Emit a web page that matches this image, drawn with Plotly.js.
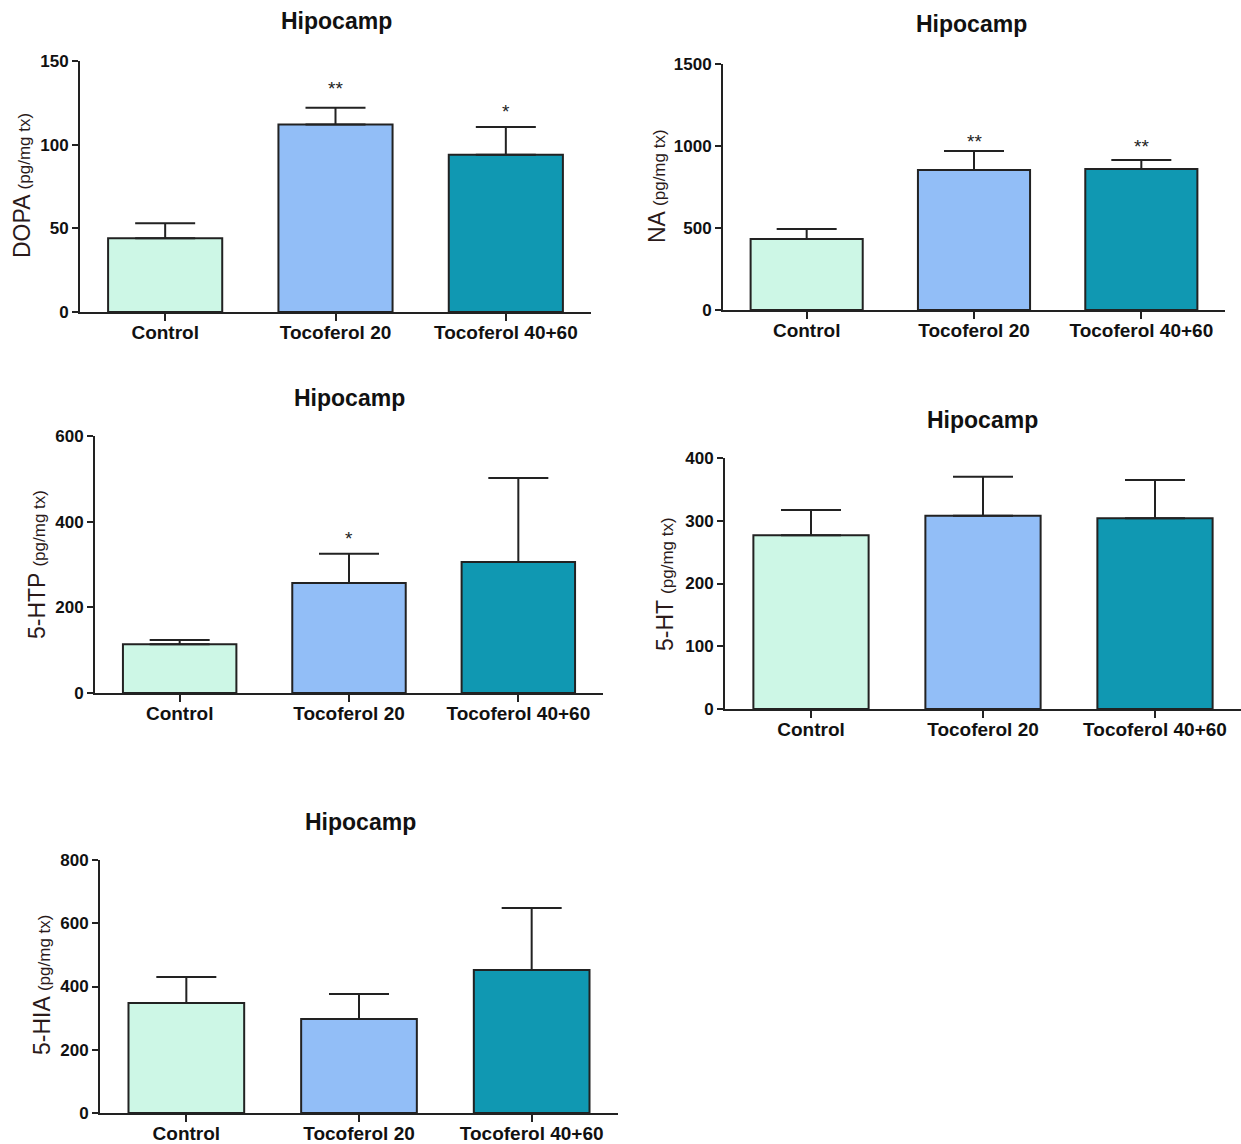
<!DOCTYPE html>
<html><head><meta charset="utf-8">
<script src="https://cdn.plot.ly/plotly-3.0.1.min.js"></script>
<style>html,body{margin:0;padding:0;background:#fff}</style>
</head><body><div id="chart" style="width:1241px;height:1144px"></div>
<script>
const categories = ['Control', 'Tocoferol 20', 'Tocoferol 40+60'];
const barColors = ['#cdf7e6', '#92bef7', '#1098b2'];

const dopa = [44, 112, 94];
const dopaErr = [9, 10, 16.5];
const dopaStars = ['', '**', '*'];
const dopaStarY = [null, 136, 122.5];

const na = [433, 854, 860];
const naErr = [61, 116, 55];
const naStars = ['', '**', '**'];
const naStarY = [null, 1049, 1024];

const htp = [114, 257, 306];
const htpErr = [10, 68, 196];
const htpStars = ['', '*', ''];
const htpStarY = [null, 369, null];

const ht = [277, 308, 304];
const htErr = [40, 62, 61];

const hia = [348, 297, 452];
const hiaErr = [82, 79, 196];

const yTicksDopa = [0, 50, 100, 150];
const yTicksNa = [0, 500, 1000, 1500];
const yTicksHtp = [0, 200, 400, 600];
const yTicksHt = [0, 100, 200, 300, 400];
const yTicksHia = [0, 200, 400, 600, 800];

const W = 1241, H = 1144;
const panels = [
  {vals: dopa, err: dopaErr, stars: dopaStars, starY: dopaStarY, ticks: yTicksDopa, main: 'DOPA', px: [80, 591], py: [61, 312], title: [336, 21], ytitle: [22, 186]},
  {vals: na, err: naErr, stars: naStars, starY: naStarY, ticks: yTicksNa, main: 'NA', px: [723, 1225], py: [64, 310], title: [971, 24], ytitle: [657, 186]},
  {vals: htp, err: htpErr, stars: htpStars, starY: htpStarY, ticks: yTicksHtp, main: '5-HTP', px: [95, 603], py: [436, 693], title: [349, 398], ytitle: [37, 565]},
  {vals: ht, err: htErr, stars: [], starY: [], ticks: yTicksHt, main: '5-HT', px: [725, 1241], py: [458, 709], title: [983, 420], ytitle: [665, 584]},
  {vals: hia, err: hiaErr, stars: [], starY: [], ticks: yTicksHia, main: '5-HIA', px: [100, 618], py: [860, 1113], title: [360, 822], ytitle: [42, 985]}
];

const FONT = 'Liberation Sans, Arial, sans-serif';
const data = [];
const layout = {
  width: W, height: H, margin: {l: 0, r: 0, t: 0, b: 0},
  paper_bgcolor: '#fff', plot_bgcolor: '#fff', showlegend: false,
  font: {family: FONT, color: '#111'},
  annotations: []
};

panels.forEach((p, i) => {
  const n = i === 0 ? '' : String(i + 1);
  const xa = 'x' + n, ya = 'y' + n;
  data.push({
    type: 'bar', x: categories, y: p.vals, xaxis: xa, yaxis: ya,
    width: 0.67,
    marker: {color: barColors, line: {color: '#222', width: 2}},
    error_y: {type: 'data', symmetric: false, array: p.err, arrayminus: p.err.map(() => 0),
              color: '#222', thickness: 2, width: 30},
    hoverinfo: 'none'
  });
  const top = p.ticks[p.ticks.length - 1];
  layout['xaxis' + n] = {
    domain: [p.px[0] / W, p.px[1] / W], anchor: ya, type: 'category',
    range: [-0.5, 2.5], showline: true, linecolor: '#222', linewidth: 2,
    ticks: 'outside', ticklen: 7, tickwidth: 2, tickcolor: '#222',
    ticklabelstandoff: -5,
    showgrid: false, zeroline: false, fixedrange: true,
    tickfont: {family: FONT, size: 19, weight: 'bold', color: '#111'}
  };
  layout['yaxis' + n] = {
    domain: [1 - p.py[1] / H, 1 - p.py[0] / H], anchor: xa,
    range: [0, top], tickvals: p.ticks, showline: true, linecolor: '#222', linewidth: 2,
    ticks: 'outside', ticklen: 6, tickwidth: 2, tickcolor: '#222',
    showgrid: false, zeroline: false, fixedrange: true,
    tickfont: {family: FONT, size: 17, weight: 'bold', color: '#111'}
  };
  layout.annotations.push({
    xref: 'paper', yref: 'paper', x: p.title[0] / W, y: 1 - p.title[1] / H,
    xanchor: 'center', yanchor: 'middle', showarrow: false,
    text: '<b>Hipocamp</b>', font: {family: FONT, size: 23, color: '#111'}
  });
  layout.annotations.push({
    xref: 'paper', yref: 'paper', x: p.ytitle[0] / W, y: 1 - p.ytitle[1] / H,
    xanchor: 'center', yanchor: 'middle', showarrow: false, textangle: -90,
    text: p.main + ' <span style="font-size:17px">(pg/mg tx)</span>',
    font: {family: FONT, size: 23, color: '#2a1a1a'}
  });
  p.stars.forEach((s, k) => {
    if (!s) return;
    layout.annotations.push({
      xref: xa, yref: ya, x: categories[k], y: p.starY[k],
      xanchor: 'center', yanchor: 'middle', yshift: -4, showarrow: false,
      text: s, font: {family: FONT, size: 19, color: '#222'}
    });
  });
});

Plotly.newPlot('chart', data, layout, {displayModeBar: false, staticPlot: true});
</script></body></html>
